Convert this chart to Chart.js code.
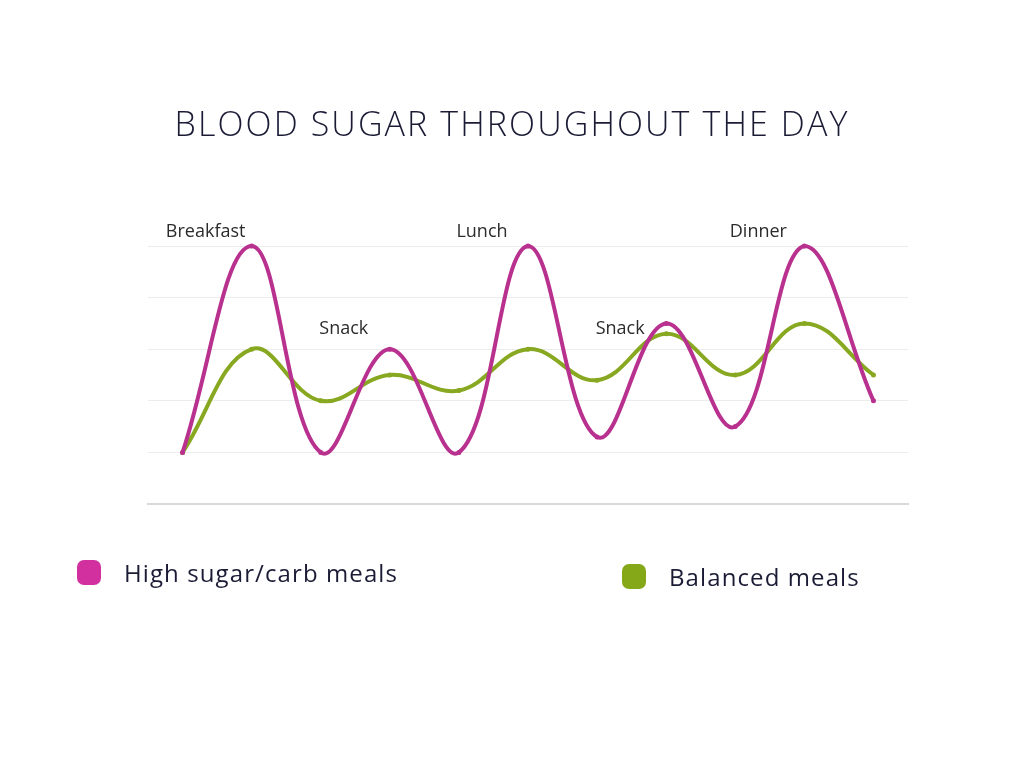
<!DOCTYPE html>
<html>
<head>
<meta charset="utf-8">
<script src="https://cdn.jsdelivr.net/npm/chart.js@4.4.0/dist/chart.umd.min.js"></script>
<style>
  html, body { margin: 0; padding: 0; background: #fff; }
  #wrap { position: relative; width: 1024px; height: 768px; overflow: hidden; }
  #chart { position: absolute; left: 0; top: 0; }
  #title {
    position: absolute; left: 0; width: 1024px; top: 100px;
    text-align: center; font-family: 'Open Sans', sans-serif; font-weight: 300;
    font-size: 34px; letter-spacing: 2.1px; color: #1b1b36;
  }
  .legend-item {
    position: absolute; display: flex; align-items: center;
    font-family: 'Open Sans', sans-serif; font-size: 24px; letter-spacing: 1.1px; color: #1b1b36;
  }
  .legend-item span.box {
    display: inline-block; width: 24px; height: 25px; border-radius: 7px; margin-right: 23px;
  }
</style>
</head>
<body>
<div id="wrap">
  <canvas id="chart" width="1024" height="768"></canvas>
  <div id="title">BLOOD SUGAR THROUGHOUT THE DAY</div>
  <div id="legend"></div>
</div>
<script>
// ==================== DATA ====================
const timePoints = ['1', '2', '3', '4', '5', '6', '7', '8', '9', '10', '11'];
const highSugarValues = [1, 5, 1, 3, 1, 5, 1.3, 3.5, 1.5, 5, 2];
const balancedValues = [1, 3, 2, 2.5, 2.2, 3, 2.4, 3.3, 2.5, 3.5, 2.5];

// meal annotations: point index, text, label level (in value units)
const mealIndex = [1, 3, 5, 7, 9];
const mealNames = ['Breakfast', 'Snack', 'Lunch', 'Snack', 'Dinner'];
const mealLevels = [5.28, 3.4, 5.28, 3.4, 5.28];

const seriesNames = ['High sugar/carb meals', 'Balanced meals'];

// ==================== STYLE ====================
const colors = {
    pink: '#b9318f',
    pinkLegend: '#d22f9f',
    green: '#87a820',
    greenLegend: '#84a817',
    grid: '#ececec',
    axis: '#d9d9d9',
    text: '#2b2b2b'
};

// legend (HTML, spread out like the original)
const legendPos = [{ left: 77, top: 556 }, { left: 622, top: 560 }];
const legendColors = [colors.pinkLegend, colors.greenLegend];
const legendEl = document.getElementById('legend');
seriesNames.forEach((name, i) => {
    const item = document.createElement('div');
    item.className = 'legend-item';
    item.style.left = legendPos[i].left + 'px';
    item.style.top = legendPos[i].top + 'px';
    item.innerHTML = `<span class="box" style="background:${legendColors[i]}"></span>${name}`;
    legendEl.appendChild(item);
});

// meal labels drawn above the lines
const mealLabels = {
    id: 'mealLabels',
    afterDatasetsDraw(chart) {
        const { ctx, scales: { x, y } } = chart;
        ctx.save();
        ctx.font = "18px 'Open Sans', sans-serif";
        ctx.fillStyle = colors.text;
        ctx.textAlign = 'center';
        ctx.textBaseline = 'middle';
        mealIndex.forEach((idx, i) => {
            ctx.fillText(mealNames[i], x.getPixelForValue(idx) - 46, y.getPixelForValue(mealLevels[i]));
        });
        ctx.restore();
    }
};

new Chart(document.getElementById('chart'), {
    type: 'line',
    data: {
        labels: timePoints,
        datasets: [
            {
                label: seriesNames[0],
                data: highSugarValues,
                borderColor: colors.pink,
                backgroundColor: colors.pink,
                borderWidth: 4,
                tension: 0.4,
                pointRadius: 2.5,
                pointBorderWidth: 0,
                clip: false
            },
            {
                label: seriesNames[1],
                data: balancedValues,
                borderColor: colors.green,
                backgroundColor: colors.green,
                borderWidth: 4,
                tension: 0.4,
                pointRadius: 2.5,
                pointBorderWidth: 0,
                clip: false
            }
        ]
    },
    options: {
        responsive: false,
        animation: false,
        layout: { padding: { left: 148, right: 116, top: 246, bottom: 264 } },
        plugins: { legend: { display: false }, tooltip: { enabled: false } },
        scales: {
            x: {
                offset: true,
                ticks: { display: false },
                grid: { display: false, drawTicks: false },
                border: { display: true, color: colors.axis, width: 2 }
            },
            y: {
                min: 0,
                max: 5,
                ticks: { display: false, stepSize: 1 },
                grid: { color: colors.grid, lineWidth: 1, drawTicks: false },
                border: { display: false }
            }
        }
    },
    plugins: [mealLabels]
});
</script>
</body>
</html>
